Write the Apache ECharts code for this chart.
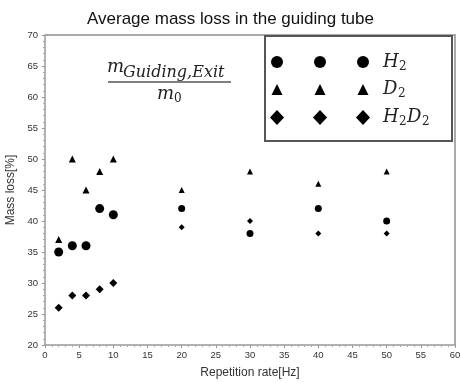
<!DOCTYPE html>
<html>
<head>
<meta charset="utf-8">
<script src="https://cdn.jsdelivr.net/npm/echarts@6/dist/echarts.min.js"></script>
<style>html,body{margin:0;padding:0;background:#fff}#c{width:461px;height:383px}</style>
</head>
<body>
<div id="c"></div>
<script>
var rates = [2, 4, 6, 8, 10, 20, 30, 40, 50];
var h2 = [35, 36, 36, 42, 41, 42, 38, 42, 40];
var d2 = [37, 50, 45, 48, 50, 45, 48, 46, 48];
var h2d2 = [26, 28, 28, 29, 30, 39, 40, 38, 38];
var xTicks = [0, 5, 10, 15, 20, 25, 30, 35, 40, 45, 50, 55, 60];
var yTicks = [20, 25, 30, 35, 40, 45, 50, 55, 60, 65, 70];

function pairs(xs, ys) { return xs.map(function (x, i) { return [x, ys[i]]; }); }
function sizeFn(big, small) { return function (v) { return v[0] <= 10 ? big : small; }; }

var chart = echarts.init(document.getElementById('c'));
var serifI = '"DejaVu Serif","Liberation Serif",serif';
var lgX = [277, 320, 363];
var g = [];
// legend box
g.push({ type: 'rect', shape: { x: 265, y: 36, width: 187, height: 105 }, style: { fill: '#fff', stroke: '#555', lineWidth: 2 }, z: 10 });
lgX.forEach(function (x) {
  g.push({ type: 'circle', shape: { cx: x, cy: 62, r: 6 }, style: { fill: '#000' }, z: 11 });
  g.push({ type: 'polygon', shape: { points: [[x, 84], [x - 5.5, 95], [x + 5.5, 95]] }, style: { fill: '#000' }, z: 11 });
  g.push({ type: 'polygon', shape: { points: [[x, 110], [x + 7, 117.5], [x, 125], [x - 7, 117.5]] }, style: { fill: '#000' }, z: 11 });
});
function lbl(x, y, parts) {
  var cx = x;
  parts.forEach(function (p) {
    g.push({ type: 'text', x: cx, y: y + (p.sub ? 5 : 0), z: 11,
      style: { text: p.t, font: (p.sub ? 'normal ' : 'italic ') + (p.sub ? 12 : 18) + 'px ' + serifI, fill: '#222', textVerticalAlign: 'middle' } });
    cx += p.w;
  });
}
lbl(383, 62, [{ t: 'H', w: 16 }, { t: '2', sub: 1, w: 8 }]);
lbl(383, 89, [{ t: 'D', w: 15 }, { t: '2', sub: 1, w: 8 }]);
lbl(383, 117, [{ t: 'H', w: 16 }, { t: '2', sub: 1, w: 8 }, { t: 'D', w: 15 }, { t: '2', sub: 1, w: 8 }]);
// formula
g.push({ type: 'text', x: 107, y: 67, style: { text: 'm', font: 'italic 18px ' + serifI, fill: '#222', textVerticalAlign: 'middle' } });
g.push({ type: 'text', x: 123, y: 73, style: { text: 'Guiding,Exit', font: 'italic 16px ' + serifI, fill: '#222', textVerticalAlign: 'middle' } });
g.push({ type: 'line', shape: { x1: 108, y1: 82, x2: 231, y2: 82 }, style: { stroke: '#555', lineWidth: 1.5 } });
g.push({ type: 'text', x: 157, y: 94, style: { text: 'm', font: 'italic 18px ' + serifI, fill: '#222', textVerticalAlign: 'middle' } });
g.push({ type: 'text', x: 174, y: 99, style: { text: '0', font: 'normal 12px ' + serifI, fill: '#222', textVerticalAlign: 'middle' } });
// plot frame top/right
g.push({ type: 'polyline', shape: { points: [[45, 35], [455, 35], [455, 345]] }, style: { stroke: '#aaa', lineWidth: 2, fill: null } });

var labelFont = '"Liberation Sans",Arial,sans-serif';
chart.setOption({
  animation: false,
  backgroundColor: '#fff',
  title: { text: 'Average mass loss in the guiding tube', left: 'center', top: 6,
    textStyle: { fontFamily: labelFont, fontSize: 17, fontWeight: 'normal', color: '#111' } },
  grid: { left: 45, right: 6, top: 35, bottom: 38, containLabel: false, outerBoundsMode: 'none' },
  xAxis: {
    type: 'value', min: xTicks[0], max: xTicks[xTicks.length - 1], interval: 5,
    name: 'Repetition rate[Hz]', nameLocation: 'middle', nameGap: 22,
    nameTextStyle: { fontFamily: labelFont, fontSize: 12, color: '#333' },
    axisLine: { lineStyle: { color: '#999', width: 1.5 } },
    axisTick: { inside: false, length: 3, lineStyle: { color: '#999' } },
    minorTick: { show: true, splitNumber: 5, length: 2, lineStyle: { color: '#aaa' } },
    splitLine: { show: false },
    axisLabel: { fontSize: 9.5, color: '#333', margin: 5, fontFamily: labelFont }
  },
  yAxis: {
    type: 'value', min: yTicks[0], max: yTicks[yTicks.length - 1], interval: 5,
    name: 'Mass loss[%]', nameLocation: 'middle', nameGap: 22,
    nameTextStyle: { fontFamily: labelFont, fontSize: 12, color: '#333' },
    axisLine: { show: true, lineStyle: { color: '#999', width: 1.5 } },
    axisTick: { show: true, length: 3, lineStyle: { color: '#999' } },
    minorTick: { show: true, splitNumber: 5, length: 2, lineStyle: { color: '#aaa' } },
    splitLine: { show: false },
    axisLabel: { fontSize: 9.5, color: '#333', margin: 7, fontFamily: labelFont }
  },
  series: [
    { name: 'H2', type: 'scatter', symbol: 'circle', symbolSize: sizeFn(9, 7), data: pairs(rates, h2), itemStyle: { color: '#000', opacity: 1 } },
    { name: 'D2', type: 'scatter', symbol: 'triangle', symbolSize: sizeFn(7, 6), data: pairs(rates, d2), itemStyle: { color: '#000', opacity: 1 } },
    { name: 'H2D2', type: 'scatter', symbol: 'diamond', symbolSize: sizeFn(8, 6), data: pairs(rates, h2d2), itemStyle: { color: '#000', opacity: 1 } }
  ],
  graphic: g
});
</script>
</body>
</html>
